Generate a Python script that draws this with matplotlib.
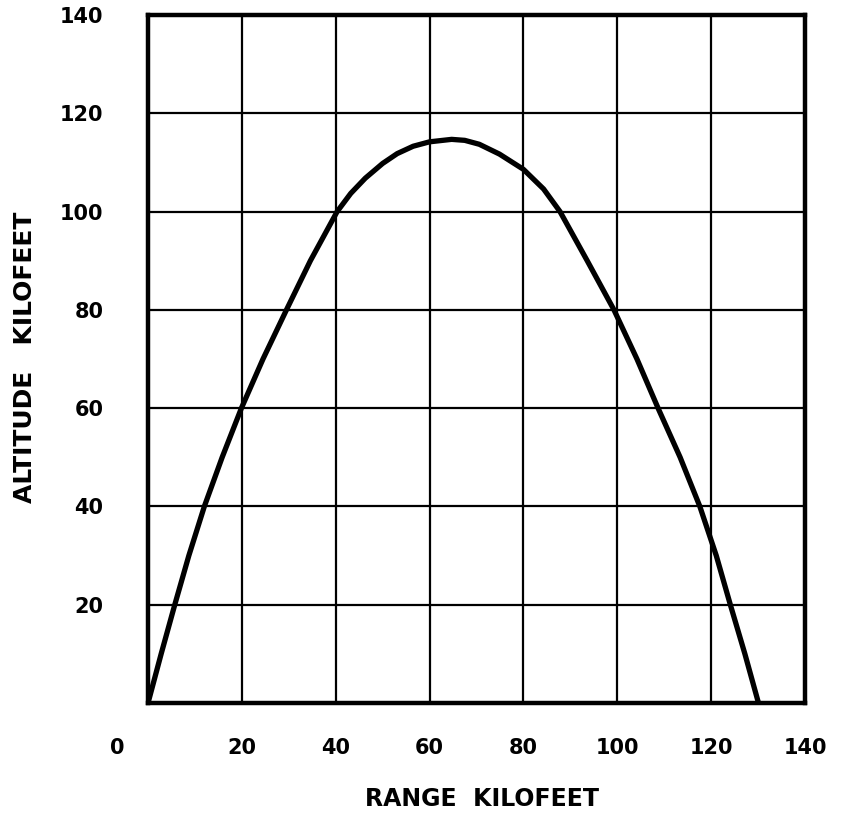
import matplotlib
matplotlib.use("Agg")
import matplotlib.pyplot as plt

# Trajectory (kilofeet)
range_kft = [0, 2.8, 5.7, 8.7, 12, 15.8, 19.9, 24.5, 29.5, 34.6, 40.3, 43.2, 46.3, 50, 53.1,
             56.5, 60, 64.7, 67.5, 70.6, 74.9, 80, 84.3, 87.8, 93.6, 99.3, 104.2,
             108.7, 113.4, 117.6, 121.1, 124.1, 127.2, 130.1]
altitude_kft = [0, 10, 20, 30, 40, 50, 60, 70, 80, 90, 100, 103.7, 106.8, 109.8, 111.8,
                113.3, 114.2, 114.7, 114.5, 113.7, 111.7, 108.6, 104.6, 100, 90, 80, 70,
                60, 50, 40, 30, 20, 10, 0]

x_ticks = [20, 40, 60, 80, 100, 120, 140]
y_ticks = [20, 40, 60, 80, 100, 120, 140]

plt.rcParams['font.family'] = ['DejaVu Sans']
plt.rcParams['font.weight'] = 'bold'

fig = plt.figure(figsize=(8.42, 8.17), dpi=100)
ax = fig.add_axes([0.1758, 0.1395, 0.7802, 0.8421])

ax.plot(range_kft, altitude_kft, color='black', linewidth=3.8,
        solid_capstyle='butt', solid_joinstyle='round', zorder=3)

ax.set_xlim(0, 140)
ax.set_ylim(0, 140)
ax.set_xticks([0] + x_ticks)
ax.set_yticks([0] + y_ticks)
ax.set_xticklabels([''] + [str(t) for t in x_ticks], fontsize=15, fontweight='bold')
ax.set_yticklabels([''] + [str(t) for t in y_ticks], fontsize=15, fontweight='bold')
ax.tick_params(axis='x', length=0, pad=25)
ax.tick_params(axis='y', length=0, pad=32)

# origin label sits left of the corner
ax.annotate('0', xy=(0, 0), xycoords=('data', 'axes fraction'),
            xytext=(-22, -25), textcoords='offset points',
            ha='center', va='top', fontsize=15, fontweight='bold')

ax.grid(True, color='black', linewidth=1.6)
ax.set_axisbelow(True)
for s in ax.spines.values():
    s.set_linewidth(3.2)
    s.set_color('black')

fig.text(0.573, 0.022, 'RANGE  KILOFEET', ha='center', va='center',
         fontsize=17, fontweight='bold')
fig.text(0.03, 0.563, 'ALTITUDE   KILOFEET', ha='center', va='center',
         rotation=90, fontsize=18, fontweight='bold')

fig.savefig('out.png', dpi=100, facecolor='white')
